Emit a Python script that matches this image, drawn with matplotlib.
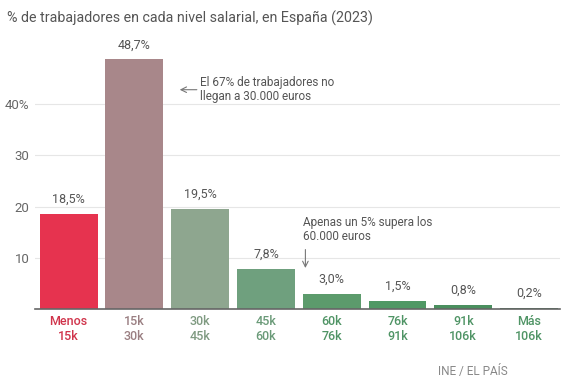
import matplotlib.pyplot as plt
import numpy as np

plt.rcParams['font.family'] = ['Roboto', 'DejaVu Sans']

categories = ['Menos\n15k', '15k\n30k', '30k\n45k', '45k\n60k', '60k\n76k', '76k\n91k', '91k\n106k', 'Más\n106k']
values = [18.5, 48.7, 19.5, 7.8, 3.0, 1.5, 0.8, 0.2]
value_labels = ['18,5%', '48,7%', '19,5%', '7,8%', '3,0%', '1,5%', '0,8%', '0,2%']
bar_colors = ['#E6334F', '#A8878A', '#8EA68F', '#6FA07E', '#5C9B6C', '#4F9864', '#4A8F5E', '#4A805B']
label_colors = ['#D0344B', '#9A7F82', '#7F9A81', '#6A9A78', '#4F9465', '#4F9465', '#4F9465', '#4F9465']
yticks = [10, 20, 30, 40]
ytick_labels = ['10', '20', '30', '40%']

fig = plt.figure(figsize=(5.67, 3.84), dpi=100)
ax = fig.add_axes([35/567, 1 - 309/384, (560-35)/567, (309-40)/384])

x = np.arange(len(values))
ax.bar(x, values, width=0.88, color=bar_colors, zorder=2)
for xi, v, lab in zip(x, values, value_labels):
    ax.text(xi, v + 1.6, lab, ha='center', va='bottom', fontsize=9, color='#555555')

ax.set_xlim(-0.51, 7.47)
ax.set_ylim(0, 52.5)
ax.set_yticks(yticks)
ax.set_yticklabels(ytick_labels, fontsize=9.5, color='#666666')
ax.grid(axis='y', color='#e6e6e6', linewidth=0.8, zorder=0)
ax.tick_params(axis='y', length=0, pad=4)
ax.set_xticks(x)
ax.set_xticklabels(categories, fontsize=9, linespacing=1.25, fontweight='medium')
for t, c in zip(ax.get_xticklabels(), label_colors):
    t.set_color(c)
ax.tick_params(axis='x', length=0, pad=4)
for s in ['top', 'right', 'left']:
    ax.spines[s].set_visible(False)
ax.spines['bottom'].set_color('#666666')
ax.spines['bottom'].set_linewidth(1.2)

# annotations
ax.annotate('', xy=(1.69, 42.8), xytext=(1.95, 42.8),
            arrowprops=dict(arrowstyle='->', color='#777777', lw=0.8, shrinkA=0, shrinkB=0))
ax.text(2.0, 42.8, 'El 67% de trabajadores no\nllegan a 30.000 euros', fontsize=8.5,
        color='#555555', va='center', ha='left', linespacing=1.1)
ax.text(3.56, 15.5, 'Apenas un 5% supera los\n60.000 euros', fontsize=8.5,
        color='#555555', va='center', ha='left', linespacing=1.1)
ax.annotate('', xy=(3.6, 8.0), xytext=(3.6, 11.6),
            arrowprops=dict(arrowstyle='->', color='#777777', lw=0.8, shrinkA=0, shrinkB=0))

fig.text(7/567, 1 - 18/384, '% de trabajadores en cada nivel salarial, en España (2023)',
         fontsize=10.3, color='#555555', va='center', ha='left')
fig.text(508/567, 1 - 371/384, 'INE / EL PAÍS', fontsize=8.5, color='#888888',
         va='center', ha='right')

plt.savefig('out.png', dpi=100)
